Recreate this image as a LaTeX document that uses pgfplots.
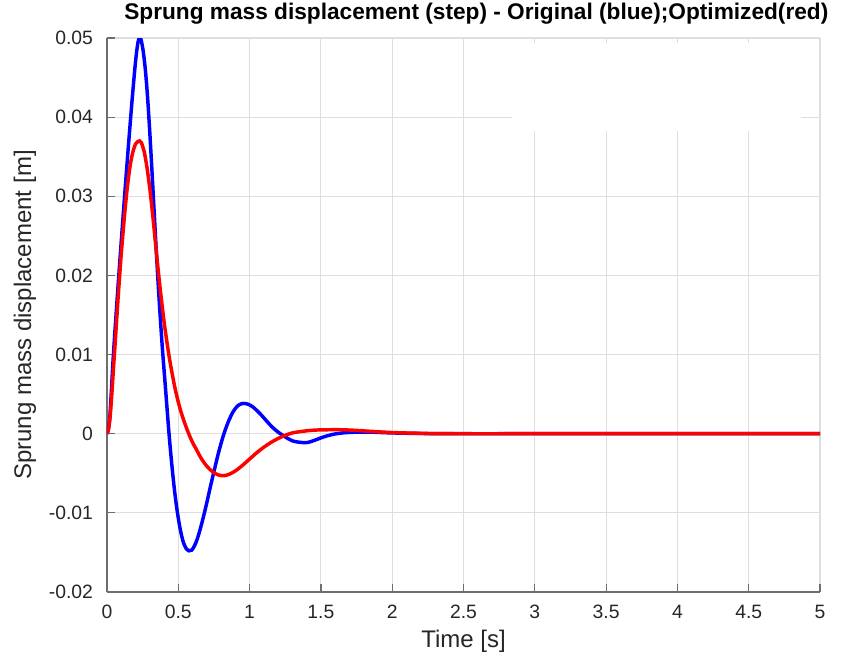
\documentclass[border=0pt]{standalone}
\usepackage{pgfplots}
\pgfplotsset{compat=1.18}
\usepackage{fontspec}
\setmainfont{Liberation Sans}
\definecolor{axgray}{RGB}{110,110,110}
\definecolor{gridgray}{RGB}{222,222,222}
\definecolor{txtgray}{RGB}{38,38,38}
\definecolor{mblue}{RGB}{0,0,255}
\definecolor{mred}{RGB}{255,0,0}
\begin{document}
\begin{tikzpicture}
\begin{axis}[
  scale only axis,
  width=534.75pt, height=415.5pt,
  xmin=0, xmax=5, ymin=-0.02, ymax=0.05,
  scaled y ticks=false, scaled x ticks=false,
  axis x line=bottom, axis y line=left,
  axis line style={draw=axgray, line width=0.9pt, -},
  xtick={0,0.5,...,5},
  xticklabels={0,0.5,1,1.5,2,2.5,3,3.5,4,4.5,5},
  ytick={-0.02,-0.01,0,0.01,0.02,0.03,0.04,0.05},
  yticklabels={-0.02,-0.01,0,0.01,0.02,0.03,0.04,0.05},
  tick align=inside,
  major tick length=6pt,
  tick style={draw=axgray, line width=0.9pt},
  grid=major,
  major grid style={draw=gridgray, line width=0.8pt},
  ticklabel style={font=\fontsize{14.5}{16}\selectfont, text=txtgray},
  yticklabel style={anchor=east, xshift=-7pt},
  xticklabel style={anchor=north, yshift=-6pt},
  xlabel={Time [s]},
  ylabel={Sprung mass displacement [m]},
  xlabel style={font=\fontsize{18}{20}\selectfont, text=txtgray, at={(axis description cs:0.5,-0.089)}, anchor=center},
  ylabel style={font=\fontsize{18}{20}\selectfont, text=txtgray, at={(axis description cs:-0.115,0.5)}, anchor=center, rotate=0},
  title={Sprung mass displacement (step) - Original (blue);Optimized(red)},
  title style={font=\bfseries\fontsize{17}{19}\selectfont, at={(axis description cs:0.518,1.019)}, anchor=base, inner sep=0pt},
  clip=true,
]
\fill[white] (axis cs:2.84,0.0383) rectangle (axis cs:4.87,0.0494);
\addplot[mblue, line width=2.6pt, smooth] coordinates {
(0,0) (0.01,0.0006) (0.02,0.0022) (0.03,0.0052) (0.04,0.0085) (0.05,0.0114) (0.06,0.0141) (0.08,0.0193) (0.10,0.0243) (0.12,0.0292) (0.14,0.0340) (0.16,0.0386) (0.18,0.0430) (0.20,0.0470) (0.215,0.0492) (0.228,0.0501) (0.24,0.0497) (0.255,0.0482) (0.27,0.0458) (0.285,0.0424) (0.30,0.0381) (0.315,0.0333) (0.33,0.0283) (0.345,0.0233) (0.36,0.0186) (0.375,0.0143) (0.39,0.0104) (0.41,0.0058) (0.435,0.0) (0.455,-0.0040) (0.475,-0.0074) (0.495,-0.0101) (0.515,-0.0122) (0.535,-0.0137) (0.555,-0.0145) (0.575,-0.0148) (0.595,-0.0147) (0.615,-0.0141) (0.635,-0.0132) (0.665,-0.0113) (0.695,-0.0091) (0.725,-0.0067) (0.755,-0.0044) (0.785,-0.0022) (0.82,0.0) (0.855,0.0017) (0.885,0.0028) (0.915,0.0035) (0.945,0.0038) (0.975,0.0038) (1.005,0.0036) (1.035,0.0032) (1.075,0.0025) (1.115,0.0017) (1.155,0.0009) (1.20,0.0002) (1.25,-0.0004) (1.30,-0.0009) (1.36,-0.0011) (1.41,-0.0011) (1.46,-0.0008) (1.52,-0.0004) (1.58,-0.0001) (1.65,0.0001) (1.75,0.0002) (1.85,0.0002) (2.0,0.0001) (2.2,0.00003) (2.5,0) (3,0) (4,0) (5,0)
};
\addplot[mred, line width=2.6pt, smooth] coordinates {
(0,0) (0.01,0.0005) (0.02,0.0018) (0.03,0.0040) (0.04,0.0067) (0.05,0.0095) (0.06,0.0122) (0.07,0.0150) (0.08,0.0177) (0.09,0.0203) (0.10,0.0227) (0.12,0.0270) (0.14,0.0307) (0.16,0.0336) (0.18,0.0355) (0.20,0.0366) (0.215,0.0369) (0.228,0.0370) (0.24,0.0368) (0.26,0.0357) (0.28,0.0337) (0.30,0.0310) (0.32,0.0277) (0.34,0.0241) (0.36,0.0205) (0.38,0.0172) (0.40,0.0142) (0.42,0.0116) (0.44,0.0093) (0.46,0.0073) (0.48,0.0055) (0.50,0.0040) (0.52,0.0027) (0.54,0.0016) (0.56,0.0006) (0.58,-0.0003) (0.60,-0.0011) (0.63,-0.0021) (0.66,-0.0031) (0.70,-0.0041) (0.74,-0.0048) (0.78,-0.0052) (0.82,-0.0053) (0.86,-0.0051) (0.90,-0.0047) (0.95,-0.0040) (1.00,-0.0032) (1.05,-0.0024) (1.10,-0.0017) (1.15,-0.0011) (1.20,-0.0006) (1.25,-0.0002) (1.30,0.0001) (1.37,0.0003) (1.45,0.00045) (1.55,0.0005) (1.65,0.0005) (1.75,0.00042) (1.85,0.0003) (2.0,0.00015) (2.2,0.00005) (2.4,0) (3,0) (4,0) (5,0)
};
\end{axis}
\pgfresetboundingbox
\path (-80.25pt,-49.5pt) rectangle (550.5pt,444pt);
\end{tikzpicture}
\end{document}
